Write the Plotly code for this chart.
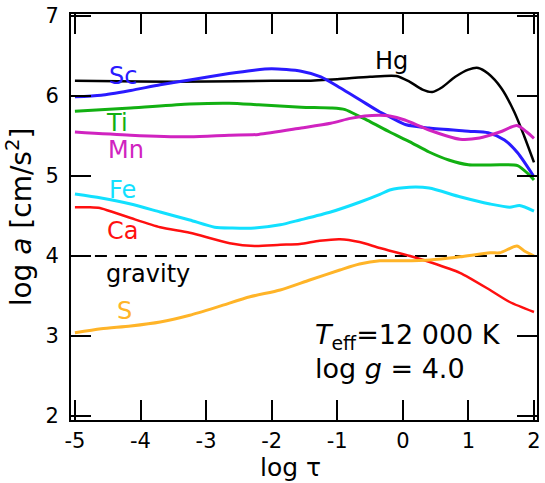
import plotly.graph_objects as go

# log tau grid and radiative accelerations (log a, cm/s^2) per element
hg_x = [-5, -4, -3, -2, -1.5, -1, -0.5, -0.1, 0.1, 0.3, 0.45, 0.6, 0.8, 1.0, 1.15, 1.3, 1.5, 1.7, 1.85, 2.0]
hg_y = [6.19, 6.18, 6.18, 6.19, 6.19, 6.21, 6.24, 6.25, 6.18, 6.08, 6.05, 6.11, 6.24, 6.33, 6.35, 6.28, 6.10, 5.80, 5.50, 5.17]

sc_x = [-5, -4.6, -4.15, -3.7, -3.25, -2.65, -2.3, -2.0, -1.55, -1.25, -0.95, -0.65, -0.35, -0.2, 0.05, 0.4, 1.0, 1.3, 1.55, 1.75, 2.0]
sc_y = [5.99, 6.01, 6.07, 6.14, 6.20, 6.28, 6.32, 6.34, 6.31, 6.24, 6.10, 5.95, 5.80, 5.74, 5.64, 5.60, 5.56, 5.54, 5.45, 5.29, 4.99]

ti_x = [-5, -4.15, -3.25, -2.65, -2.2, -1.55, -1.1, -0.88, -0.65, -0.5, -0.2, 0.1, 0.4, 0.7, 1.0, 1.5, 1.75, 1.92, 2.0]
ti_y = [5.81, 5.85, 5.90, 5.91, 5.89, 5.86, 5.85, 5.83, 5.74, 5.68, 5.55, 5.43, 5.30, 5.20, 5.14, 5.14, 5.13, 5.02, 4.95]

mn_x = [-5, -4.15, -3.25, -2.65, -2.2, -1.55, -1.1, -0.8, -0.58, -0.35, -0.2, 0.03, 0.4, 0.87, 1.17, 1.48, 1.74, 1.89, 2.0]
mn_y = [5.55, 5.51, 5.49, 5.51, 5.52, 5.60, 5.66, 5.72, 5.75, 5.76, 5.75, 5.70, 5.575, 5.46, 5.475, 5.55, 5.63, 5.55, 5.47]

fe_x = [-5, -4.6, -4.15, -3.7, -3.25, -2.87, -2.6, -2.26, -1.87, -1.57, -1.1, -0.65, -0.35, -0.2, 0.1, 0.4, 0.87, 1.33, 1.63, 1.78, 2.0]
fe_y = [4.775, 4.725, 4.65, 4.55, 4.45, 4.36, 4.35, 4.35, 4.39, 4.45, 4.55, 4.675, 4.77, 4.825, 4.86, 4.85, 4.74, 4.65, 4.61, 4.63, 4.56]

ca_x = [-5, -4.77, -4.62, -4.39, -4.15, -3.7, -3.25, -2.64, -2.26, -1.87, -1.57, -1.27, -0.96, -0.66, -0.35, 0.11, 0.41, 0.87, 1.33, 1.63, 2.0]
ca_y = [4.61, 4.61, 4.6, 4.54, 4.475, 4.36, 4.29, 4.16, 4.125, 4.14, 4.15, 4.19, 4.21, 4.175, 4.10, 4.0, 3.925, 3.79, 3.575, 3.425, 3.3]

s_x = [-5, -4.6, -4.15, -3.7, -3.25, -2.8, -2.33, -1.87, -1.42, -0.96, -0.66, -0.35, 0.0, 0.41, 0.87, 1.33, 1.48, 1.74, 1.86, 2.0]
s_y = [3.04, 3.09, 3.125, 3.175, 3.26, 3.37, 3.49, 3.575, 3.70, 3.825, 3.90, 3.94, 3.94, 3.95, 3.99, 4.04, 4.04, 4.125, 4.06, 4.0]

gravity_x = [-5, 2]
gravity_y = [4.0, 4.0]

x_ticks = [-5, -4, -3, -2, -1, 0, 1, 2]
y_ticks = [2, 3, 4, 5, 6, 7]

FONT = "DejaVu Sans"

series = [
    ("Hg", hg_x, hg_y, "#000000", 2.5),
    ("Sc", sc_x, sc_y, "#2a1aff", 3),
    ("Ti", ti_x, ti_y, "#12b012", 3),
    ("Mn", mn_x, mn_y, "#d023c0", 3),
    ("Fe", fe_x, fe_y, "#12e0ff", 3),
    ("Ca", ca_x, ca_y, "#ff1010", 2.5),
    ("S", s_x, s_y, "#ffb428", 3),
]

fig = go.Figure()

fig.add_trace(go.Scatter(
    x=gravity_x, y=gravity_y, mode="lines",
    line=dict(color="black", width=2, dash="12px,8px"),
    showlegend=False, hoverinfo="skip",
))

for name, xs, ys, color, w in series:
    fig.add_trace(go.Scatter(
        x=xs, y=ys, mode="lines", name=name,
        line=dict(color=color, width=w, shape="spline", smoothing=0.7),
        showlegend=False,
    ))

# curve labels: (text, x, y, colour)
labels = [
    ("Sc", -4.27, 6.25, "#2a1aff"),
    ("Ti", -4.36, 5.66, "#12b012"),
    ("Mn", -4.22, 5.325, "#d023c0"),
    ("Fe", -4.27, 4.825, "#12e0ff"),
    ("Ca", -4.28, 4.31, "#ff1010"),
    ("gravity", -3.89, 3.78, "#000000"),
    ("S", -4.24, 3.31, "#ffb428"),
    ("Hg", -0.17, 6.44, "#000000"),
]
for text, lx, ly, color in labels:
    fig.add_annotation(x=lx, y=ly, text=text, showarrow=False,
                       font=dict(family=FONT, size=24, color=color),
                       xanchor="center", yanchor="middle")

fig.add_annotation(x=-1.37, y=3.0, text="<i>T</i><sub>eff</sub>=12 000 K",
                   showarrow=False, xanchor="left", yanchor="middle",
                   font=dict(family=FONT, size=27, color="black"))
fig.add_annotation(x=-1.37, y=2.59, text="log <i>g</i> = 4.0",
                   showarrow=False, xanchor="left", yanchor="middle",
                   font=dict(family=FONT, size=27, color="black"))

W, H = 545, 483
ml, mr, mt, mb = 71, 8, 14, 63

# x-axis title, set slightly left of the plot centre
fig.add_annotation(xref="paper", x=(290 - ml) / (W - ml - mr),
                   yref="paper", y=-(467 - (H - mb)) / (H - mt - mb),
                   text="log τ", showarrow=False,
                   xanchor="center", yanchor="middle",
                   font=dict(family=FONT, size=25, color="black"))

axis_common = dict(
    showgrid=False, zeroline=False, automargin=False,
    showline=True, linecolor="black", linewidth=2, mirror="allticks",
    ticks="inside", ticklen=20, tickwidth=2, tickcolor="black",
    tickfont=dict(family=FONT, size=21, color="black"),
)

fig.update_xaxes(
    range=[-5.06, 2.046], tickvals=x_ticks, ticktext=[str(v) for v in x_ticks],
    ticklabelstandoff=1,
    **axis_common,
)
fig.update_yaxes(
    range=[1.95, 7.025], tickvals=y_ticks, ticktext=[str(v) for v in y_ticks],
    title=dict(text="log <i>a</i> [cm/s<sup>2</sup>]", font=dict(family=FONT, size=28, color="black"), standoff=6),
    ticklabelstandoff=6,
    **axis_common,
)

fig.update_layout(
    width=W, height=H,
    margin=dict(l=ml, r=mr, t=mt, b=mb),
    paper_bgcolor="white", plot_bgcolor="white",
)

fig.write_html("out.html")
